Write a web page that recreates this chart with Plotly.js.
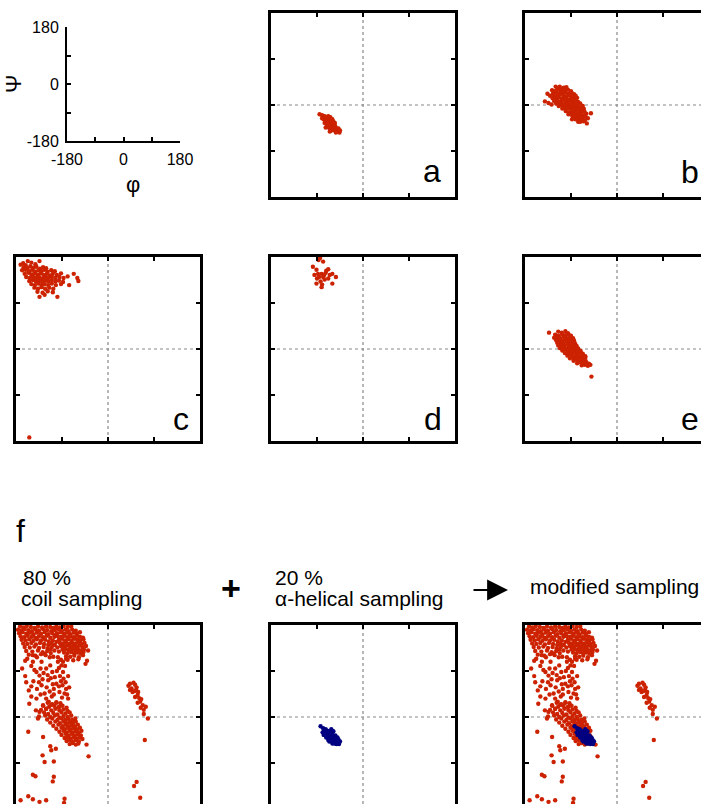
<!DOCTYPE html>
<html><head><meta charset="utf-8">
<script src="https://cdn.plot.ly/plotly-3.0.1.min.js"></script>
<style>html,body{margin:0;padding:0;background:#fff}</style>
</head><body><div id="chart" style="width:701px;height:804px"></div>
<script>
// ---- data: [phi, psi] pairs ----
const panelA = [[-85,-18],[-80,-20],[-78,-24],[-75,-22],[-72,-25],[-77,-28],[-74,-30],[-70,-28],[-68,-31],[-72,-33],[-66,-26],[-64,-30],[-69,-35],[-65,-35],[-62,-33],[-60,-36],[-67,-39],[-63,-40],[-59,-40],[-56,-38],[-61,-44],[-57,-44],[-54,-42],[-52,-46],[-58,-48],[-55,-50],[-50,-49],[-48,-52],[-53,-54],[-46,-54],[-70,-42],[-66,-45],[-62,-50],[-75,-35],[-71,-38],[-60,-28],[-58,-32],[-55,-35],[-64,-24],[-80,-26],[-48,-46],[-45,-50],[-68,-22],[-73,-44],[-65,-52]];

const panelB = [[-112,36],[-104,34],[-99,35],[-117,32],[-108,31],
[-127,29],[-122,27],[-115,30],[-110,26],[-103,29],[-96,30],[-90,27],
[-125,23],[-119,24],[-113,22],[-107,24],[-101,25],[-95,22],[-89,24],[-84,21],
[-131,18],[-124,19],[-118,17],[-112,20],[-105,18],[-99,17],[-93,19],[-87,16],[-81,18],
[-126,13],[-120,12],[-114,15],[-108,12],[-102,14],[-96,11],[-90,13],[-84,12],[-78,14],
[-123,8],[-117,9],[-111,7],[-105,10],[-99,7],[-93,8],[-87,6],[-81,9],[-76,6],
[-119,3],[-113,4],[-107,2],[-101,3],[-95,1],[-89,4],[-83,2],[-77,1],[-72,3],
[-114,-2],[-108,-1],[-102,-3],[-96,-2],[-90,-4],[-84,-1],[-78,-3],[-72,-5],[-67,-2],
[-107,-7],[-101,-8],[-95,-6],[-89,-9],[-83,-7],[-77,-8],[-71,-10],[-65,-7],
[-100,-12],[-94,-14],[-88,-12],[-82,-13],[-76,-15],[-70,-13],[-64,-12],
[-95,-18],[-89,-19],[-83,-17],[-77,-20],[-71,-18],[-65,-20],[-60,-17],
[-86,-23],[-80,-24],[-74,-22],[-68,-25],[-62,-23],
[-81,-28],[-75,-29],[-69,-27],[-63,-30],[-57,-26],
[-72,-33],[-66,-32],
[-141,7],[-134,4],[-128,1],[-51,-16],[-59,-36],[-76,-33],[-88,-28],[-136,22],[-120,36]];

const panelC = [[-166,168],[-157,172],[-150,169],[-134,172],[-142,166],[-161,164],[-171,165],
[-165,160],[-158,158],[-152,162],[-146,159],[-140,161],[-133,157],[-127,160],[-121,158],
[-168,154],[-161,155],[-154,152],[-148,155],[-142,151],[-136,154],[-130,152],[-124,155],[-118,151],[-111,154],[-104,152],
[-163,147],[-156,149],[-150,146],[-144,148],[-138,145],[-132,148],[-126,145],[-120,147],[-114,144],[-108,147],[-100,145],[-92,148],
[-160,141],[-153,139],[-147,142],[-141,139],[-135,141],[-129,138],[-123,141],[-117,139],[-110,142],[-103,139],[-95,141],[-87,139],[-79,142],
[-154,133],[-147,135],[-141,132],[-135,134],[-129,131],[-123,134],[-117,132],[-110,135],[-103,132],[-96,134],[-88,131],
[-150,127],[-143,125],[-136,128],[-130,124],[-124,127],[-117,125],[-110,128],[-102,125],[-92,127],
[-144,120],[-137,118],[-130,121],[-123,118],[-115,120],[-107,118],
[-138,112],[-128,110],[-118,113],[-108,111],
[-134,102],[-99,102],[-124,106],
[-60,139],[-58,133],[-76,125],[-67,147],[-154,-173]];

const panelD = [[-87,174],[-78,171],[-98,161],[-91,155],[-68,156],[-73,149],[-81,147],[-95,145],[-86,141],[-78,141],[-65,145],[-60,147],[-53,141],[-90,138],[-75,136],[-68,138],[-83,132],[-91,128],[-80,126],[-60,128],[-81,121],[-72,153],[-88,147],[-76,145],[-84,178]];

const panelE = [[-115,34],[-108,32],[-101,35],[-96,31],
[-121,28],[-114,26],[-107,29],[-101,27],[-95,29],[-90,26],
[-123,22],[-117,23],[-111,21],[-104,24],[-98,21],[-92,23],[-86,21],
[-119,17],[-113,18],[-107,16],[-101,19],[-95,16],[-89,18],[-84,16],
[-117,12],[-111,13],[-105,11],[-99,14],[-93,11],[-87,13],[-82,11],
[-115,7],[-109,8],[-103,6],[-97,9],[-91,6],[-85,8],[-79,6],
[-112,2],[-106,3],[-100,1],[-94,4],[-88,1],[-82,3],[-76,1],
[-107,-3],[-101,-1],[-95,-4],[-89,-2],[-83,-4],[-77,-2],[-71,-4],
[-102,-8],[-96,-6],[-90,-9],[-84,-7],[-78,-9],[-72,-7],[-67,-9],
[-97,-13],[-91,-11],[-85,-14],[-79,-12],[-73,-14],[-67,-12],[-62,-14],
[-92,-18],[-86,-16],[-80,-19],[-74,-17],[-68,-19],[-62,-17],
[-85,-23],[-79,-21],[-73,-24],[-67,-22],[-61,-24],
[-78,-28],[-72,-26],[-66,-29],[-60,-27],[-55,-29],
[-69,-32],[-63,-31],[-57,-33],[-52,-31],
[-133,32],[-50,-54]];

const coilSampling = [
// beta region
[-172,177],[-166,175],[-159,178],[-151,176],[-144,174],[-137,177],[-129,175],[-121,177],[-113,176],[-107,174],
[-176,171],[-169,169],[-163,172],[-156,170],[-149,168],[-142,171],[-135,169],[-127,172],[-119,170],[-111,168],[-106,171],
[-174,164],[-167,166],[-160,163],[-153,165],[-146,162],[-139,165],[-131,163],[-124,166],[-117,162],[-109,164],
[-171,158],[-164,156],[-157,159],[-149,157],[-142,155],[-135,158],[-127,156],[-120,159],[-113,155],[-105,157],
[-169,151],[-161,150],[-154,152],[-146,149],[-139,152],[-131,150],[-123,151],[-116,148],[-108,150],
[-166,144],[-158,143],[-150,145],[-141,142],[-133,145],[-125,143],[-117,141],[-110,144],
[-163,137],[-153,136],[-144,138],[-135,135],[-126,137],[-118,134],
[-160,129],[-148,128],[-137,130],[-128,127],[-119,129],
[-155,122],[-142,120],[-131,123],[-122,121],[-112,125],
[-103,174],[-102,160],[-101,147],[-104,141],[-99,136],[-110,137],[-96,128],[-105,130],[-113,132],[-98,117],[-107,118],[-92,112],
// PPII region
[-101,177],[-94,175],[-87,178],[-79,176],[-72,177],
[-104,170],[-97,172],[-90,169],[-83,171],[-77,168],[-70,171],[-63,169],
[-100,164],[-93,166],[-86,163],[-80,165],[-74,162],[-67,165],[-61,163],[-55,166],
[-98,158],[-91,157],[-85,159],[-79,156],[-73,158],[-67,156],[-61,159],[-55,157],[-49,155],
[-96,151],[-90,153],[-84,150],[-78,152],[-72,150],[-66,153],[-60,151],[-54,150],[-48,152],
[-94,145],[-88,144],[-82,146],[-76,143],[-70,145],[-64,144],[-58,146],[-52,143],[-46,145],
[-92,139],[-86,138],[-80,140],[-74,137],[-68,139],[-62,138],[-56,140],[-50,137],[-43,139],
[-89,132],[-83,133],[-77,131],[-71,133],[-65,131],[-59,133],[-53,130],[-47,132],[-39,130],
[-86,126],[-79,125],[-72,127],[-66,124],[-60,126],[-54,124],[-48,127],
[-82,119],[-74,118],[-66,120],[-57,117],[-49,121],
[-79,112],[-68,111],[-58,113],[-41,110],[-44,104],
// bridge between beta and alpha
[-168,95],[-160,68],[-155,52],[-154,26],[-141,13],[-137,-3],[-139,117],[-147,108],[-140,88],[-134,81],
[-135,68],[-130,62],[-139,55],[-124,46],[-121,36],[-127,23],[-121,16],[-114,117],[-113,101],[-109,88],
[-104,78],[-101,65],[-106,55],[-98,108],[-91,101],[-88,88],[-87,75],[-83,68],[-89,62],[-82,55],
[-85,46],[-95,49],[-78,36],[-101,29],[-124,124],[-130,108],[-121,95],[-147,121],[-82,114],[-88,108],
[-158,114],[-117,72],[-111,24],[-95,20],[-134,10],
[-150,100],[-144,92],[-132,95],[-126,86],[-118,82],[-112,76],[-128,74],[-146,70],[-150,60],[-120,58],
[-114,50],[-132,44],[-110,40],[-140,36],[-116,30],[-96,60],[-92,70],[-78,80],[-100,90],[-94,80],
[-108,64],[-76,58],[-80,44],[-90,38],[-106,44],[-96,96],[-84,100],[-162,80],[-150,40],[-162,110],
// alpha region
[-118,28],[-109,25],[-101,28],[-93,27],
[-127,22],[-115,20],[-105,22],[-97,19],[-89,22],[-81,18],
[-131,14],[-121,16],[-111,13],[-103,16],[-95,13],[-87,15],[-79,12],
[-125,9],[-117,6],[-107,8],[-99,5],[-91,9],[-83,7],[-75,9],
[-135,1],[-123,3],[-113,0],[-104,3],[-95,-1],[-87,2],[-79,0],[-72,3],
[-119,-5],[-109,-3],[-99,-6],[-91,-3],[-84,-6],[-77,-4],[-70,-6],[-64,-3],
[-113,-11],[-103,-9],[-94,-12],[-87,-9],[-81,-12],[-75,-10],[-69,-12],[-63,-9],
[-107,-17],[-97,-15],[-89,-18],[-83,-15],[-77,-18],[-71,-16],[-65,-18],[-59,-15],
[-101,-23],[-91,-21],[-85,-24],[-79,-21],[-73,-24],[-67,-22],[-61,-24],[-55,-21],
[-95,-29],[-87,-27],[-81,-30],[-75,-27],[-69,-30],[-63,-28],[-57,-30],[-52,-27],
[-91,-35],[-83,-33],[-77,-36],[-71,-33],[-65,-36],[-59,-34],[-53,-36],
[-85,-41],[-79,-39],[-73,-42],[-67,-39],[-61,-42],[-55,-40],[-50,-43],
[-81,-47],[-75,-45],[-69,-48],[-63,-45],[-57,-48],
[-75,-53],[-69,-51],[-63,-54],[-58,-52],
// sparse lower points
[-156,-29],[-127,-39],[-113,-57],[-102,-62],[-111,-65],[-128,-75],[-124,-88],[-106,-87],[-38,-77],[-42,-54],
[-147,-113],[-142,-116],[-106,-117],[-108,-126],[-156,-155],[-147,-161],[-134,-166],[-121,-163],[-85,-160],[-86,-168],[-171,-163],
// left-handed region (positive phi)
[40,61],[50,67],[53,63],[46,56],[55,53],[48,49],[58,43],[53,39],[61,37],[63,30],[58,28],[68,23],[64,18],[70,14],[70,6],[78,-3],
[43,65],[56,58],[59,49],[65,35],[74,20],[52,51],[43,53],
[72,-45],[56,-127],[51,-135],[63,-158]];

const helicalSampling = [[-83,-18],[-78,-22],[-76,-26],[-73,-24],[-70,-27],[-74,-31],[-71,-33],[-67,-29],[-65,-33],[-69,-37],[-63,-27],[-61,-31],[-66,-40],[-62,-37],[-59,-35],[-57,-39],[-64,-44],[-60,-43],[-56,-44],[-53,-41],[-58,-48],[-54,-48],[-51,-45],[-49,-50],[-56,-52],[-52,-53],[-47,-53],[-45,-48],[-60,-52],[-68,-45],[-72,-40],[-77,-35],[-62,-24],[-58,-28],[-54,-36],[-50,-40],[-66,-48],[-70,-30],[-79,-30],[-48,-44]];

const panelLetters = ['a','b','c','d','e','f'];
const axisTickVals = [-180, -90, 0, 90, 180];
const axisTickText = ['-180', '', '0', '', '180'];
const samplingTexts = ['80 %', 'coil sampling', '20 %', 'α-helical sampling', 'modified sampling'];

// ---- layout helpers ----
const W = 701, H = 804;
const FONT = 'Liberation Sans, Arial, sans-serif';
const RED = '#cc2200', BLUE = '#000080';
const xd = (a, b) => [a / W, Math.min(1, b / W)];
const yd = (top, bot) => [Math.max(0, 1 - bot / H), 1 - top / H];

const layout = {
  width: W, height: H, margin: {l: 0, r: 0, t: 0, b: 0},
  paper_bgcolor: '#fff', plot_bgcolor: 'rgba(0,0,0,0)',
  showlegend: false, font: {family: FONT, color: '#000'},
  shapes: [], annotations: []
};

// key axes (phi / psi orientation panel)
const keyAxis = {range: [-180, 180], showline: true, linewidth: 2, linecolor: '#000',
  ticks: 'inside', ticklen: 4, tickwidth: 2, tickcolor: '#000', tickvals: axisTickVals, ticktext: axisTickText,
  tickfont: {size: 16, family: FONT, color: '#000'}, showgrid: false, zeroline: false, fixedrange: true, ticklabelstandoff: 3};
layout.xaxis = Object.assign({}, keyAxis, {domain: xd(67, 180), anchor: 'y'});
layout.yaxis = Object.assign({}, keyAxis, {domain: yd(27, 141), anchor: 'x'});

const traces = [{type: 'scatter', mode: 'markers', x: [], y: [], xaxis: 'x', yaxis: 'y', hoverinfo: 'skip'}];

const cols = [[16, 200], [271, 455], [525, 709]];
const rows = [[13, 197], [257, 441], [625, 809]];
const panels = [
  {c: 1, r: 0, data: [[panelA, RED]]},
  {c: 2, r: 0, data: [[panelB, RED]]},
  {c: 0, r: 1, data: [[panelC, RED]]},
  {c: 1, r: 1, data: [[panelD, RED]]},
  {c: 2, r: 1, data: [[panelE, RED]]},
  {c: 0, r: 2, data: [[coilSampling, RED]]},
  {c: 1, r: 2, data: [[helicalSampling, BLUE]]},
  {c: 2, r: 2, data: [[coilSampling, RED], [helicalSampling, BLUE]]}
];

panels.forEach((p, i) => {
  const n = i + 2;
  const [x0, x1] = cols[p.c], [y0, y1] = rows[p.r];
  const cutRight = x1 > W, cutBottom = y1 > H;
  const cx = (x0 + x1) / 2, cy = (y0 + y1) / 2, pxPerDeg = (x1 - x0) / 360;
  const xr = cutRight ? [-180, (W - cx) / pxPerDeg] : [-180, 180];
  const yr = cutBottom ? [-(H - cy) / pxPerDeg, 180] : [-180, 180];
  const common = {showline: true, linewidth: 2.6, linecolor: '#000', ticks: 'inside', ticklen: 4, tickwidth: 2,
    tickcolor: '#000', tickvals: [-90, 0, 90], showticklabels: false, showgrid: false, zeroline: false, fixedrange: true};
  layout['xaxis' + n] = Object.assign({}, common, {domain: xd(x0, x1), range: xr, anchor: 'y' + n,
    side: cutBottom ? 'top' : 'bottom', mirror: cutBottom ? false : 'ticks'});
  layout['yaxis' + n] = Object.assign({}, common, {domain: yd(y0, y1), range: yr, anchor: 'x' + n,
    mirror: cutRight ? false : 'ticks'});
  layout.shapes.push({type: 'line', xref: 'x' + n, yref: 'y' + n + ' domain', x0: 0, x1: 0, y0: 0, y1: 1,
    line: {color: '#888', width: 1.2, dash: 'dot'}, layer: 'below'});
  layout.shapes.push({type: 'line', xref: 'x' + n + ' domain', yref: 'y' + n, x0: 0, x1: 1, y0: 0, y1: 0,
    line: {color: '#888', width: 1.2, dash: 'dot'}, layer: 'below'});
  p.data.forEach(([pts, col]) => {
    traces.push({type: 'scatter', mode: 'markers', xaxis: 'x' + n, yaxis: 'y' + n,
      x: pts.map(d => d[0]), y: pts.map(d => d[1]),
      marker: {size: 4.4, color: col, line: {width: 0}}, hoverinfo: 'skip'});
  });
});

// annotations
const ann = (text, px, py, opt) => layout.annotations.push(Object.assign({
  text, xref: 'paper', yref: 'paper', x: px / W, y: 1 - py / H, showarrow: false,
  xanchor: 'center', yanchor: 'middle', font: {family: FONT, size: 21, color: '#000'}}, opt || {}));

ann('Ψ', 14, 84, {textangle: -90, font: {family: FONT, size: 22}});
ann('φ', 133, 185, {font: {family: FONT, size: 22}});

const letterPos = [[443, 171, 'right'], [701, 172, 'right'], [191, 419, 'right'], [444, 419, 'right'], [701, 419, 'right'], [14, 531, 'left']];
panelLetters.forEach((l, i) => {
  const [x, y, xa] = letterPos[i];
  ann(l, x, y, {xanchor: xa, font: {family: FONT, size: 32}});
});

ann(samplingTexts[0], 21, 577, {xanchor: 'left'});
ann(samplingTexts[1], 19, 598, {xanchor: 'left'});
ann(samplingTexts[2], 273, 577, {xanchor: 'left'});
ann(samplingTexts[3], 273, 598, {xanchor: 'left'});
ann(samplingTexts[4], 528, 586, {xanchor: 'left'});
ann('<b>+</b>', 231, 588, {font: {family: FONT, size: 34}});
layout.annotations.push({text: '', xref: 'paper', yref: 'paper', axref: 'pixel', ayref: 'pixel',
  x: 508 / W, y: 1 - 590 / H, ax: -36, ay: 0, showarrow: true, arrowhead: 2, arrowsize: 1.9,
  arrowwidth: 2.2, arrowcolor: '#000'});

Plotly.newPlot('chart', traces, layout, {staticPlot: true});
</script></body></html>
